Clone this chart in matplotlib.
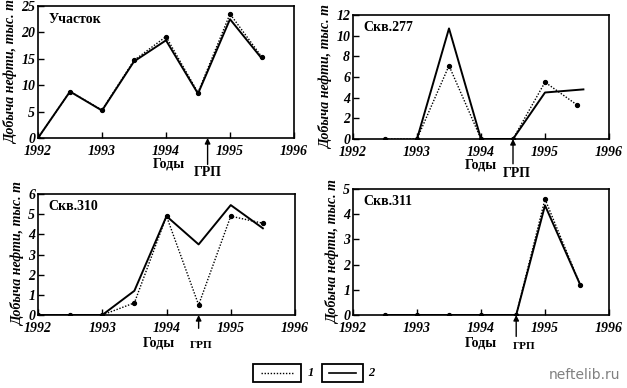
import matplotlib
matplotlib.use("Agg")
import matplotlib.pyplot as plt
from matplotlib.patches import Rectangle

years = [1992, 1992.5, 1993, 1993.5, 1994, 1994.5, 1995, 1995.5]
x_ticks = [1992, 1993, 1994, 1995, 1996]

# Участок
uch_1 = [0, 8.8, 5.3, 14.7, 19.2, 8.6, 23.5, 15.3]
uch_2 = [0, 8.8, 5.2, 14.5, 18.5, 8.4, 22.5, 15.0]
# Скв.277
s277_x1 = [1992.5, 1993, 1993.5, 1994, 1994.5, 1995, 1995.5]
s277_1 = [0, 0, 7.1, 0, 0, 5.5, 3.3]
s277_x2 = [1993, 1993.5, 1994, 1994.5, 1995, 1995.6]
s277_2 = [0, 10.7, 0, 0, 4.5, 4.8]
# Скв.310
s310_1 = [0, 0, 0, 0.6, 4.9, 0.5, 4.9, 4.55]
s310_x2 = [1992, 1993, 1993.5, 1994, 1994.5, 1995, 1995.5]
s310_2 = [0, 0, 1.2, 4.9, 3.5, 5.45, 4.3]
# Скв.311
s311_x = [1992.5, 1993, 1993.5, 1994, 1994.55, 1995, 1995.55]
s311_1 = [0, 0, 0, 0, 0, 4.6, 1.2]
s311_2 = [0, 0, 0, 0, 0, 4.35, 1.2]

grp_x = [1994.65, 1994.5, 1994.5, 1994.55]

panels = [
    dict(title="Участок", pos=[38/627, 1-138/388, 256/627, 132/388], ymax=25, ystep=5,
         x1=years, y1=uch_1, x2=years, y2=uch_2, grp=grp_x[0],
         godY=-0.2, godX=0.51, grpdx=0.0, grpY=-0.265, arrow_len=0.2, grpfs=10),
    dict(title="Скв.277", pos=[353/627, 1-139/388, 256/627, 124/388], ymax=12, ystep=2,
         x1=s277_x1, y1=s277_1, x2=s277_x2, y2=s277_2, grp=grp_x[1],
         godY=-0.21, godX=0.5, grpdx=0.015, grpY=-0.275, arrow_len=0.2, grpfs=10),
    dict(title="Скв.310", pos=[38/627, 1-315/388, 257/627, 121/388], ymax=6, ystep=1,
         x1=years, y1=s310_1, x2=s310_x2, y2=s310_2, grp=grp_x[2],
         godY=-0.23, godX=0.47, grpdx=0.01, grpY=-0.25, arrow_len=0.11, grpfs=8),
    dict(title="Скв.311", pos=[353/627, 1-315/388, 256/627, 126/388], ymax=5, ystep=1,
         x1=s311_x, y1=s311_1, x2=s311_x, y2=s311_2, grp=grp_x[3],
         godY=-0.22, godX=0.5, grpdx=0.03, grpY=-0.25, arrow_len=0.17, grpfs=8),
]

serif = "Liberation Serif"
fig = plt.figure(figsize=(6.27, 3.88), dpi=100)

for p in panels:
    ax = fig.add_axes(p["pos"])
    ax.plot(p["x1"], p["y1"], linestyle=(0, (1, 1.2)), color="black", lw=1.0,
            marker="o", markersize=2.8)
    ax.plot(p["x2"], p["y2"], linestyle="-", color="black", lw=1.4)
    ax.set_xlim(1992, 1996)
    ax.set_ylim(0, p["ymax"])
    ax.set_xticks(x_ticks)
    ax.set_yticks(list(range(0, p["ymax"] + 1, p["ystep"])))
    ax.tick_params(direction="in", length=4, width=1)
    ax.tick_params(axis="x", pad=5)
    ax.tick_params(axis="y", pad=2)
    for lab in ax.get_xticklabels() + ax.get_yticklabels():
        lab.set_fontfamily(serif)
        lab.set_fontstyle("italic")
        lab.set_fontweight("bold")
        lab.set_fontsize(10)
    for s in ax.spines.values():
        s.set_linewidth(1.2)
    ax.set_ylabel("Добыча нефти, тыс. т", fontfamily=serif, fontstyle="italic",
                  fontweight="bold", fontsize=10, labelpad=2)
    ax.text(0.04, 0.9, p["title"], transform=ax.transAxes, fontfamily=serif,
            fontweight="bold", fontsize=10, va="center", ha="left")
    ax.text(p["godX"], p["godY"], "Годы", transform=ax.transAxes, fontfamily=serif,
            fontweight="bold", fontsize=10, ha="center", va="center")
    gx = (p["grp"] - 1992) / 4
    ax.annotate("", xy=(gx, 0), xycoords="axes fraction",
                xytext=(gx, -p["arrow_len"]), textcoords="axes fraction",
                arrowprops=dict(arrowstyle="-|>", color="black", lw=1.0,
                                mutation_scale=8, shrinkA=0, shrinkB=0))
    ax.text(gx + p["grpdx"], p["grpY"], "ГРП", transform=ax.transAxes, fontfamily=serif,
            fontweight="bold", fontsize=p["grpfs"], ha="center", va="center")

# Legend boxes
lax = fig.add_axes([0, 0, 1, 1], facecolor="none")
lax.set_xlim(0, 627)
lax.set_ylim(388, 0)
lax.axis("off")
lax.add_patch(Rectangle((253, 364), 48, 18, fill=False, lw=1.3, color="black"))
lax.plot([261, 293], [373, 373], linestyle=(0, (1, 1.2)), color="black", lw=1.0)
lax.text(308, 373, "1", fontfamily=serif, fontstyle="italic", fontweight="bold",
         fontsize=9, va="center")
lax.add_patch(Rectangle((322, 364), 41, 18, fill=False, lw=1.3, color="black"))
lax.plot([329, 356], [373, 373], linestyle="-", color="black", lw=1.2)
lax.text(368, 373, "2", fontfamily=serif, fontstyle="italic", fontweight="bold",
         fontsize=9, va="center")
lax.text(620, 375, "neftelib.ru", fontfamily="DejaVu Sans", color="#808080",
         fontsize=10, ha="right", va="center")

fig.savefig("out.png", dpi=100)
